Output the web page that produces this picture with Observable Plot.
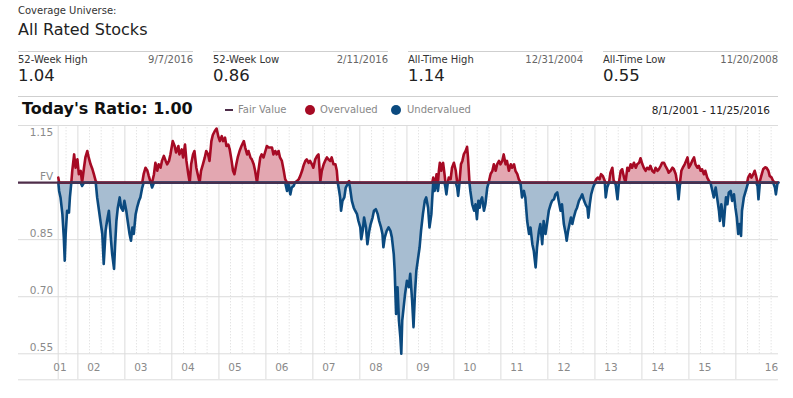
<!DOCTYPE html>
<html><head><meta charset="utf-8">
<script src="https://cdn.jsdelivr.net/npm/d3@7"></script>
<script src="https://cdn.jsdelivr.net/npm/@observablehq/plot@0.6"></script>
<style>
body{margin:0;background:#fff;font-family:"DejaVu Sans",Verdana,sans-serif;}
#wrap{position:relative;width:793px;height:398px;overflow:hidden;background:#fff}
#chart{position:absolute;left:0;top:0}
.h{position:absolute;z-index:2;white-space:nowrap;line-height:1}
.rule{position:absolute;z-index:2;height:1px;background:#cfcfcf}
</style></head>
<body><div id="wrap"><div id="chart"></div></div>
<script>
// decimal-year dates and fair-value ratios
const dates = [
2001.583,2001.60,2001.63,2001.67,2001.70,2001.72,2001.74,2001.77,2001.81,2001.83,2001.86,2001.88,2001.92,2001.95,2001.99,
2002.02,2002.06,2002.09,2002.13,2002.16,2002.20,2002.23,2002.27,2002.31,2002.34,2002.38,2002.41,2002.45,2002.48,2002.52,2002.55,2002.59,2002.62,2002.66,2002.70,2002.73,2002.77,2002.79,2002.82,2002.85,2002.89,2002.92,2002.96,2002.99,
2003.03,2003.06,2003.10,2003.13,2003.16,2003.19,2003.23,2003.26,2003.30,2003.33,2003.37,2003.40,2003.44,2003.48,2003.51,2003.55,2003.58,2003.62,2003.65,2003.69,2003.72,2003.76,2003.79,2003.83,2003.87,2003.90,2003.94,2003.97,
2004.02,2004.06,2004.09,2004.14,2004.16,2004.21,2004.24,2004.28,2004.31,2004.35,2004.38,2004.41,2004.45,2004.48,2004.52,2004.55,2004.59,2004.62,2004.66,2004.70,2004.73,2004.77,2004.80,2004.84,2004.87,2004.91,2004.95,2004.99,
2005.02,2005.06,2005.09,2005.13,2005.16,2005.20,2005.23,2005.27,2005.30,2005.33,2005.37,2005.40,2005.44,2005.48,2005.53,2005.56,2005.60,2005.63,2005.67,2005.70,2005.74,2005.77,2005.81,2005.84,2005.88,2005.91,2005.95,2005.99,
2006.02,2006.06,2006.09,2006.13,2006.16,2006.20,2006.23,2006.27,2006.30,2006.34,2006.38,2006.41,2006.45,2006.48,2006.52,2006.55,2006.59,2006.62,2006.66,2006.70,2006.73,2006.77,2006.80,2006.84,2006.87,2006.91,2006.94,2006.98,
2007.01,2007.05,2007.09,2007.12,2007.16,2007.19,2007.23,2007.26,2007.30,2007.33,2007.37,2007.40,2007.44,2007.48,2007.51,2007.53,2007.56,2007.58,2007.60,2007.63,2007.67,2007.70,2007.74,2007.77,2007.79,2007.83,2007.87,2007.90,2007.94,2007.97,
2008.01,2008.03,2008.06,2008.09,2008.13,2008.16,2008.20,2008.23,2008.27,2008.30,2008.34,2008.38,2008.41,2008.45,2008.48,2008.50,2008.53,2008.57,2008.61,2008.65,2008.68,2008.72,2008.74,2008.76,2008.77,2008.80,2008.83,2008.86,2008.88,2008.90,2008.93,2008.96,
2009.00,2009.04,2009.07,2009.11,2009.14,2009.17,2009.20,2009.23,2009.27,2009.30,2009.34,2009.38,2009.41,2009.45,2009.48,2009.52,2009.54,2009.56,2009.59,2009.61,2009.63,2009.66,2009.68,2009.70,2009.73,2009.75,2009.77,2009.80,2009.82,2009.84,2009.87,2009.89,2009.93,2009.96,
2010.00,2010.04,2010.07,2010.09,2010.12,2010.15,2010.18,2010.21,2010.25,2010.28,2010.30,2010.33,2010.35,2010.39,2010.43,2010.46,2010.49,2010.52,2010.55,2010.57,2010.60,2010.64,2010.67,2010.71,2010.74,2010.78,2010.82,2010.85,2010.89,2010.92,2010.96,2010.99,
2011.03,2011.06,2011.10,2011.13,2011.17,2011.21,2011.24,2011.28,2011.31,2011.35,2011.38,2011.42,2011.45,2011.49,2011.52,2011.56,2011.60,2011.63,2011.67,2011.70,2011.74,2011.77,2011.81,2011.84,2011.88,2011.91,2011.95,2011.99,
2012.02,2012.06,2012.09,2012.13,2012.16,2012.20,2012.23,2012.27,2012.30,2012.34,2012.38,2012.40,2012.43,2012.46,2012.49,2012.52,2012.55,2012.59,2012.62,2012.66,2012.70,2012.73,2012.77,2012.80,2012.84,2012.86,2012.89,2012.92,2012.96,2012.99,
2013.03,2013.06,2013.10,2013.13,2013.17,2013.21,2013.23,2013.26,2013.30,2013.33,2013.37,2013.40,2013.44,2013.48,2013.51,2013.55,2013.58,2013.62,2013.65,2013.69,2013.72,2013.76,2013.79,2013.83,2013.87,2013.90,2013.94,2013.97,
2014.01,2014.04,2014.08,2014.11,2014.15,2014.18,2014.22,2014.26,2014.29,2014.33,2014.36,2014.40,2014.43,2014.47,2014.50,2014.54,2014.57,2014.61,2014.65,2014.68,2014.72,2014.75,2014.78,2014.81,2014.84,2014.87,2014.91,2014.94,2014.97,
2015.00,2015.04,2015.07,2015.11,2015.14,2015.18,2015.21,2015.25,2015.28,2015.32,2015.35,2015.39,2015.43,2015.46,2015.50,2015.53,2015.57,2015.60,2015.64,2015.66,2015.69,2015.71,2015.74,2015.77,2015.79,2015.82,2015.85,2015.89,2015.92,2015.96,2015.99,
2016.02,2016.05,2016.08,2016.11,2016.13,2016.17,2016.21,2016.24,2016.26,2016.30,2016.33,2016.37,2016.40,2016.43,2016.46,2016.48,2016.51,2016.55,2016.58,2016.62,2016.65,2016.69,2016.72,2016.76,2016.79,2016.83,2016.85,2016.88,2016.902
];
const ratios = [
1.013,0.978,0.961,0.917,0.856,0.795,0.865,0.926,0.921,0.961,1.000,1.031,1.074,1.039,1.061,
1.022,1.031,0.991,1.039,1.066,1.083,1.066,1.048,1.035,1.022,1.004,0.961,0.926,0.899,0.865,0.786,0.873,0.899,0.926,0.856,0.812,0.773,0.830,0.899,0.934,0.961,0.934,0.926,0.952,
0.926,0.899,0.865,0.847,0.882,0.865,0.917,0.934,0.952,0.961,0.987,1.022,1.039,1.031,1.017,1.000,0.987,1.022,1.052,1.031,1.048,1.039,1.057,1.070,1.057,1.048,1.057,1.074,
1.109,1.096,1.079,1.096,1.074,1.087,1.066,1.100,1.057,1.022,1.000,1.048,1.074,1.083,1.039,1.022,1.000,1.031,1.048,1.066,1.083,1.074,1.057,1.109,1.125,1.135,1.142,1.120,
1.109,1.122,1.109,1.118,1.096,1.100,1.087,1.057,1.031,1.022,1.048,1.066,1.083,1.096,1.109,1.092,1.074,1.083,1.066,1.061,1.048,1.031,1.000,1.031,1.066,1.074,1.066,1.083,
1.096,1.092,1.092,1.092,1.074,1.083,1.074,1.083,1.066,1.057,1.031,1.009,0.978,0.996,0.969,0.987,0.991,1.000,1.004,1.009,1.017,1.031,1.044,1.057,1.061,1.052,1.057,1.048,
1.039,1.061,1.070,1.074,1.004,1.031,1.048,1.057,1.066,1.061,1.057,1.066,1.048,1.048,1.031,1.000,0.978,0.961,0.926,0.952,0.961,0.987,0.996,1.004,0.987,0.952,0.934,0.926,0.917,0.899,
0.882,0.851,0.873,0.908,0.882,0.838,0.873,0.891,0.908,0.926,0.930,0.917,0.899,0.882,0.865,0.830,0.856,0.873,0.882,0.873,0.856,0.812,0.768,0.690,0.655,0.725,0.637,0.594,0.550,0.637,0.672,0.707,
0.742,0.725,0.760,0.690,0.620,0.707,0.768,0.795,0.830,0.873,0.917,0.952,0.961,0.934,0.882,0.917,0.961,1.013,0.978,1.000,1.022,0.978,1.031,1.052,1.031,1.048,1.052,1.022,0.987,0.969,1.000,1.013,1.009,1.039,
1.052,1.031,0.987,0.965,1.004,1.048,1.057,1.074,1.083,1.094,1.066,1.004,0.978,0.943,0.926,0.943,0.904,0.952,0.934,0.952,0.961,0.926,0.943,0.987,1.000,1.022,1.031,1.048,1.031,1.048,1.057,1.048,
1.057,1.074,1.048,1.057,1.031,1.048,1.039,1.048,1.031,1.022,1.009,0.996,0.961,0.978,0.961,0.899,0.865,0.882,0.838,0.821,0.777,0.830,0.873,0.891,0.838,0.899,0.865,0.899,
0.926,0.943,0.952,0.956,0.969,0.974,0.952,0.926,0.943,0.891,0.865,0.847,0.873,0.891,0.908,0.891,0.908,0.926,0.934,0.952,0.961,0.969,0.952,0.943,0.934,0.908,0.943,0.969,0.987,0.996,
1.009,1.013,1.009,1.022,1.017,1.004,0.961,0.987,1.000,1.026,1.039,1.004,0.996,0.956,1.000,1.031,1.035,1.013,1.000,1.039,1.031,1.048,1.039,1.052,1.039,1.048,1.052,1.064,
1.048,1.039,1.031,1.039,1.035,1.044,1.031,1.026,1.039,1.031,1.035,1.044,1.052,1.052,1.044,1.035,1.026,1.031,1.039,1.035,1.022,0.996,0.956,0.996,1.031,1.039,1.048,1.057,1.066,
1.039,1.048,1.057,1.066,1.048,1.039,1.044,1.031,1.035,1.022,1.031,1.013,1.004,1.000,0.978,0.961,0.987,0.961,0.926,0.899,0.943,0.926,0.886,0.934,0.961,0.943,0.974,0.978,0.952,0.969,0.934,
0.908,0.865,0.891,0.860,0.926,0.961,0.978,0.991,1.013,1.022,1.013,1.022,1.031,1.017,0.991,0.956,1.004,1.022,1.035,1.040,1.039,1.031,1.017,1.013,1.004,0.987,0.969,0.996,1.000
];
const rangeStart = "2001-08-01", rangeEnd = "2016-11-25";
const yTicks = [0.55, 0.70, 0.85, 1.00];
const yTickLabels = ["0.55", "0.70", "0.85", "FV"];
const yTopTick = 1.15, yTopLabel = "1.15";
const fairValue = 1.00;
const xLabels = ["01","02","03","04","05","06","07","08","09","10","11","12","13","14","15","16"];
const xLabelDates = ["2001-08-15","2002-05-05","2003-05-05","2004-05-05","2005-05-05","2006-05-05","2007-05-05","2008-05-05","2009-05-05","2010-05-05","2011-05-05","2012-05-05","2013-05-05","2014-05-05","2015-05-05","2016-11-25"];
const statLabels = ["52-Week High", "52-Week Low", "All-Time High", "All-Time Low"];
const statDates = ["9/7/2016", "2/11/2016", "12/31/2004", "11/20/2008"];
const statValues = ["1.04", "0.86", "1.14", "0.55"];
const legendLabels = ["Fair Value", "Overvalued", "Undervalued"];
const universeLabel = "Coverage Universe:", universeName = "All Rated Stocks";
const todayRatio = "1.00";

const RED = "#a60a24", BLUE = "#0b4a7f", PINK = "#e3a7b1", LBLUE = "#a7bdd1", PURPLE = "#4e2d4a", GRID = "#dcdcdc";

const toDate = t => { const y = Math.floor(t); const s = Date.UTC(y,0,1), e = Date.UTC(y+1,0,1); return new Date(s + (t - y) * (e - s)); };
const data = dates.map((t, i) => ({date: toDate(t), v: ratios[i]}));
const start = new Date(rangeStart + "T00:00:00Z"), end = new Date(rangeEnd + "T00:00:00Z");
const yearLines = [start];
for (let y = 2002; y <= 2016; y++) yearLines.push(new Date(Date.UTC(y,0,1)));
const quarterLines = [];
for (let y = 2001; y <= 2016; y++) for (const m of [3,6,9]) { const d = new Date(Date.UTC(y,m,1)); if (d > start && d < end) quarterLines.push(d); }
const labelRows = xLabels.map((l, i) => ({label: l, date: new Date(xLabelDates[i] + "T00:00:00Z")}));
const yMin = d3.min(yTicks);

const chart = Plot.plot({
  width: 793, height: 398,
  marginTop: 125, marginBottom: 19, marginLeft: 18, marginRight: 15,
  x: {type: "utc", domain: [start, end], range: [57.7, 777.7], axis: null},
  y: {domain: [yMin, yTopTick], range: [353.3, 125], axis: null},
  style: {background: "transparent", fontFamily: "'DejaVu Sans', Verdana, sans-serif", overflow: "visible"},
  marks: [
    Plot.ruleX(quarterLines, {y1: yMin, y2: yTopTick, stroke: "#d8d8d8", strokeDasharray: "1,2"}),
    Plot.ruleY([...yTicks.filter(v => v !== fairValue), yTopTick], {stroke: GRID}),
    Plot.ruleY([yMin], {dy: 26, stroke: GRID}),
    Plot.ruleX(yearLines, {stroke: GRID}),
    Plot.areaY(data, {x: "date", y1: fairValue, y2: d => Math.max(d.v, fairValue), fill: PINK}),
    Plot.areaY(data, {x: "date", y1: fairValue, y2: d => Math.min(d.v, fairValue), fill: LBLUE}),
    Plot.lineY(data, {x: "date", y: d => Math.max(d.v, fairValue), stroke: RED, strokeWidth: 2.6}),
    Plot.lineY(data, {x: "date", y: d => Math.min(d.v, fairValue), stroke: BLUE, strokeWidth: 2.6}),
    Plot.ruleY([fairValue], {stroke: PURPLE, strokeWidth: 2.4}),
    Plot.text(yTicks.map((v, i) => ({v, l: yTickLabels[i]})), {x: () => start, y: "v", text: "l", textAnchor: "end", dx: -5, dy: -6, fontSize: 10.5, fill: "#8a8a8a"}),
    Plot.text([{v: yTopTick, l: yTopLabel}], {x: () => start, y: "v", text: "l", textAnchor: "end", dx: -5, dy: 7, fontSize: 10.5, fill: "#8a8a8a"}),
    Plot.text(labelRows.slice(0, -1), {x: "date", y: () => yMin, text: "label", dy: 14, fontSize: 10.5, fill: "#8a8a8a"}),
    Plot.text(labelRows.slice(-1), {x: "date", y: () => yMin, text: "label", dy: 14, textAnchor: "end", fontSize: 10.5, fill: "#8a8a8a"})
  ]
});
document.getElementById("chart").appendChild(chart);

// header
const wrap = document.getElementById("wrap");
function add(html, style, cls = "h") { const d = document.createElement("div"); d.className = cls; d.style.cssText = style; d.innerHTML = html; wrap.appendChild(d); return d; }
add(universeLabel, "left:18px;top:6px;font-size:10px;color:#333");
add(universeName, "left:18px;top:22px;font-size:16px;color:#222");
statLabels.forEach((l, i) => {
  const x = 18 + i * 195;
  add("", `left:${x}px;top:51px;width:175px`, "rule");
  add(l, `left:${x}px;top:55px;font-size:10px;color:#333`);
  add(statDates[i], `left:${x}px;top:55px;width:175px;text-align:right;font-size:10px;color:#666`);
  add(statValues[i], `left:${x}px;top:68px;font-size:16.5px;color:#222`);
});
add("", "left:18px;top:96px;width:760px", "rule");
add("Today's Ratio: " + todayRatio, "left:22px;top:101px;font-size:16px;font-weight:bold;color:#111");
add("", `left:225px;top:109px;width:8px;height:2px;background:${PURPLE}`);
add(legendLabels[0], "left:238px;top:105px;font-size:10px;color:#888");
add("", `left:305px;top:105px;width:10px;height:10px;border-radius:50%;background:${RED}`);
add(legendLabels[1], "left:320px;top:105px;font-size:10px;color:#888");
add("", `left:391px;top:105px;width:10px;height:10px;border-radius:50%;background:${BLUE}`);
add(legendLabels[2], "left:407px;top:105px;font-size:10px;color:#888");
add("8/1/2001 - 11/25/2016", "right:23px;top:105px;font-size:10.5px;color:#222");
</script></body></html>
